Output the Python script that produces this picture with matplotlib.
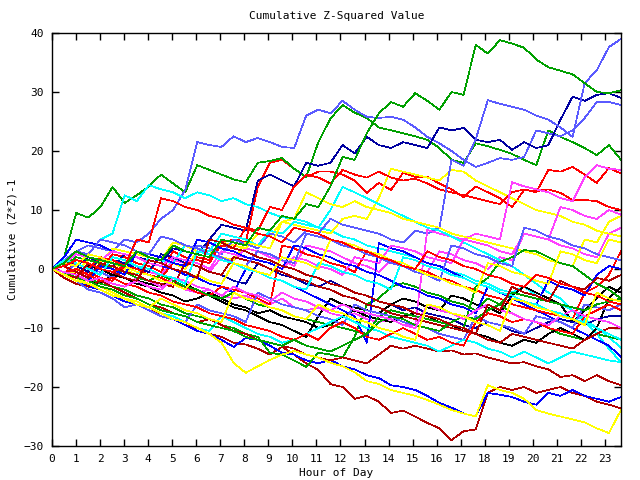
import numpy as np
import matplotlib
matplotlib.use("Agg")
import matplotlib.pyplot as plt

# half-hourly readings, 48 per walk, 0h .. 23.67h
hour_end = 23.67
n_pts = 48

green_b = [0, 1, 3, 2, 1.5, 1, 0.5, 3, 2, 1.5, 4, 3, 2.5, 2, 5, 4.5, 4, 7, 6.5, 9, 8.5, 11, 10.5, 14,
           19, 18.5, 23, 26.4, 28.3, 27.5, 29.8, 28.5, 27, 30, 29.5, 38, 36.5, 38.8, 38.2, 37.5, 35.5,
           34.2, 33.6, 33, 31.5, 30, 29.8, 30.3]
green_a = [0, 2, 9.5, 8.7, 10.5, 13.9, 11.2, 12.5, 14, 16, 14.5, 13, 17.6, 16.8, 16, 15.2, 14.7, 18,
           18.3, 18.8, 17, 15.6, 21.5, 25.5, 27.8, 26.5, 25.6, 24, 23.5, 23, 22.5, 21.9, 20.5, 18.5,
           18, 21.3, 20.8, 20.2, 19.5, 18.5, 17.6, 23.5, 22.4, 21.5, 20.5, 19.3, 21, 18.5]
mblue_1 = [0, 1.5, 3, 4, 3.5, 3, 5, 4.5, 6, 8.5, 10, 13.4, 21.5, 21, 20.7, 22.5, 21.5, 22.2, 21.5,
           20.7, 20.5, 26, 27, 26.4, 28.5, 27, 25.8, 25.6, 25.8, 25.3, 24, 22.4, 21.3, 20, 18.5, 17.3,
           18, 18.8, 18.5, 19, 23.5, 23, 22.5, 23.5, 25.6, 28.3, 28.3, 27.8]
mblue_2 = [0, -1, 1, 0, -0.5, -1.5, 1, 0.5, -0.5, 2.5, 2, 1, 4, 3.5, 2.5, 5, 4.3, 3.5, 6, 5.5, 4.5,
           6.5, 6, 8.5, 7.5, 7, 6.5, 6, 5, 4.5, 6.5, 6, 7, 18.5, 17.5, 22, 28.6, 28, 27.5, 27, 26,
           25.3, 24, 22.4, 31.5, 33.7, 37.6, 39]
navy_1 = [0, 1.5, 0.5, 2, 1, 0.5, 2.5, 2, 1.5, 1, 3.5, 3, 2.5, 5, 7.5, 7, 6.5, 15, 16, 15, 14, 18,
          17.5, 18, 21, 19.6, 22.4, 21, 20.5, 21.5, 21, 20.5, 24, 23.5, 23.9, 21.9, 21.5, 21.9, 20.2,
          21.5, 20.5, 21, 25.3, 29.2, 28.5, 29.5, 29.8, 29]
red_1 = [0, -1, 1.5, 1, 0, 2.5, 2, 1, 0.5, -0.5, 3, 2, 1.5, 1, 4.5, 5, 4.5, 13.9, 18, 18.5, 17,
         15.6, 16.5, 16.5, 16, 15, 12.9, 14.6, 13.4, 16.3, 15.6, 15.6, 14.5, 13.5, 12.2, 14, 13, 12,
         10.5, 13.4, 13.2, 13.5, 12.9, 11.7, 11.7, 11.5, 10.5, 10]
red_2 = [0, 0.5, -1, -0.5, -1.5, -2, 0.5, 0, -1, -1.5, 1, 0.5, 2, 1.5, 4, 3.5, 7, 6.5, 10.5, 10, 14,
         16, 15.5, 14.5, 16.8, 16, 15.5, 16.5, 15.5, 15, 15.3, 14.5, 13.5, 13, 12.5, 12, 11.5, 11,
         13, 13.5, 13, 16.8, 16.5, 17.3, 16, 14.6, 17.1, 16.2]
mag_1 = [0, -0.5, -1.5, -1, -2, -2.5, -3, -1.5, -2, -3, -2.5, -3.5, -4, -3.5, -4.5, -5, -4.5, -5.5,
         -6, -5, -6.5, -7, -6.5, -7.5, -8, -7.5, -8.5, -9, -8.5, -9.5, -9.5, 6.6, 6, 5.5, 5, 6, 5.5,
         5, 14.7, 14, 13.5, 13, 12, 11.5, 15.6, 17.6, 17, 16.8]
mag_2 = [0, 1, 2.5, 2, 1.5, 3, 2.5, 2, 1, 0.5, 2, 1.5, 1, 0, 3, 2.5, 2, 1.5, 1, 0, 2, 1.5, 0.5, 0,
         -1, 2, 1.5, 1, 4, 3.5, 3, 2, 1.5, 1, 5, 4.5, 4, 3, 2.5, 6, 5.5, 5, 10.5, 10, 9, 8.5, 10, 9.2]
yel_1 = [0, 1, 0.5, -0.5, 1.5, 1, 0, -1, 2, 1.5, 1, 0, 3, 2.5, 4.5, 4, 3.5, 6, 5.5, 8, 7.5, 7, 6.5,
         6, 8.5, 9, 8.5, 12, 17, 16.5, 16, 15.5, 15, 16.8, 16.5, 15, 14, 13, 12, 11, 10, 9.5, 9, 8,
         7.5, 6.5, 6, 5.5]
yel_2 = [0, -1, -0.5, 1.5, 1, 3.5, 3, 2.5, 2, 1.5, 4.5, 4, 3, 2.5, 2, 1.5, 4.5, 4, 3.5, 8, 8.5, 13,
         12, 11, 10.5, 11.5, 10.5, 10, 9.5, 8.5, 8, 7.5, 7, 6, 5.5, 5, 4.5, 4, 3.5, 3, 2.5, 1.5, 1,
         0.5, 5, 4.5, 8, 9]
cyan_1 = [0, 1, 3, 2.5, 5, 6, 12.5, 11.5, 14.2, 13.5, 13, 12, 13, 12.5, 11.5, 12, 11, 10.5, 9.5,
          8.8, 8.5, 8, 7, 6.5, 5.5, 5, 4, 3.5, 3, 2.5, 2, 1, 0.5, -0.5, -1, -2, -2.5, -3.5, -4, -3,
          -4.5, -5.5, -6, -7, -8.5, -10, -11.5, -13.4]
cyan_2 = [0, -1, -2, -1.5, 1, 0.5, -0.5, -1, 2, 1.5, 1, 4, 3.5, 3, 6, 5.5, 5, 4, 6.5, 6, 8, 7.5, 7,
          10, 13.9, 13, 12, 11, 10, 9, 8, 7, 6.5, 5.5, 4.5, 3.5, 2.5, 1.5, 0.5, -1, -2.5, -4, -5, -7,
          -9, -11, -13.5, -15.8]
black_1 = [0, -0.5, -1, -2, -2.5, -1, -1.5, -2, -2.5, -3, -1.5, -2.5, -3.6, -4.5, -5.5, -6.5, -7,
           -8, -9, -9.5, -10.5, -11.5, -8, -5, -6, -6.5, -7, -7.5, -6, -5, -5.5, -6.5, -7, -4.5, -5,
           -6, -6.5, -7.5, -4.5, -3, -4, -5, -6, -9, -7, -5, -3, -4]
dred_1 = [0, -1, -2, -2.8, -3.5, -4.5, -5.5, -6, -7, -7.5, -8.5, -9.5, -10, -11, -11.5, -12.5,
          -12.8, -13.5, -14.5, -13.2, -14.5, -16, -17.1, -19.5, -20, -22, -21.5, -22.5, -24.4, -24,
          -25, -26.1, -27, -29, -27.5, -27.2, -21, -20, -20.5, -20, -21, -20.5, -20, -21, -21.5,
          -22.5, -23, -23.6]
dred_2 = [0, -1.5, -2.5, -3, -2, -3, -4, -5, -6, -6.5, -7.5, -8, -9, -8.5, -9.5, -10.5, -11, -12,
          -12.5, -13, -13.5, -14.5, -15, -15.5, -15, -15.5, -16, -14.5, -13, -13.5, -13, -13.5, -14,
          -13.8, -14.5, -14.3, -15, -15.5, -16, -15.8, -16.5, -17, -18.3, -18, -19, -18, -19, -19.7]
blue_1 = [0, -1, -2, -3, -3.5, -4.5, -5.5, -6, -7, -8, -8.5, -9.5, -10.5, -11, -12, -13.2, -11.7,
          -12, -13, -14.2, -14.5, -15.5, -16, -15.4, -16.5, -17, -18, -18.5, -19.7, -20, -20.5,
          -21.5, -22.7, -23.5, -24.5, -25, -21, -21.3, -21.7, -22.5, -23, -21, -21.5, -20.5, -21.5,
          -22, -22.5, -21.7]
yel_3 = [0, -1, -1.5, -2.5, -3, -4, -5, -5.5, -6.5, -7.5, -8.5, -9, -10, -11, -12.5, -15.9, -17.6,
         -16.5, -15.4, -14.5, -13.9, -14.5, -15, -15.9, -16.5, -17.5, -19, -19.5, -20.5, -21, -21.5,
         -22.2, -23, -23.9, -24.5, -25, -19.7, -20.5, -21, -22, -23.9, -24.5, -25, -25.5, -26, -27,
         -27.8, -23.9]
green_c = [0, -1, -0.5, -1.5, -2.5, -3, -3.5, -4.5, -5, -6, -6.5, -7.5, -8, -8.5, -9.5, -10, -11,
           -11.5, -14.2, -14.5, -15.5, -16.6, -14.2, -14.5, -15, -11.5, -6, -5, -3, -2.4, -3, -4,
           -4.5, -5.5, -6, -7, -5, -6, -7.5, -8.5, -9, -10, -11, -11.5, -12, -11, -11.5, -12]
green_d = [0, 0.5, 2, 1.5, 1, 0, -0.5, -1.5, -2, -1, -2, -3, -3.5, -4.5, -5, -4, -5, -6, -6.5, -7,
           -8, -8.5, -9, -9.5, -10, -10.5, -11, -8, -7, -7.5, -8, -8.5, -9, -9.5, -10, -3, -1.5, 1.2,
           2, 3.2, 3, 2, 1, 0.5, -1, -2.5, -3.5, -5]
blue_2 = [0, 2, 5, 4.5, 4, 3, 2.5, 2, 1, 0.5, 0, -1, -1.5, -2.5, -3, -4, 0, -0.5, -1.5, -2, -3, -4,
          -5, -6, -7, -8, -12.5, 4.4, 3.5, 3, 2, 1, 0.5, -0.5, -1.5, -2.5, -3, -4, -5, -6, -7, -8,
          -9, -10, -11, -12, -13, -14.9]
blue_3 = [0, -1, -1.5, -2, 0.5, 0, -1, 3, 2.5, 2, 1, 0.5, 5, 4.5, 3.5, 3, 2, 1.5, 1, 0, 4, 3.5, 2.5,
          2, 1, 0.5, -0.5, -1, -2, -3, -3.5, -4.5, -5, -6, -6.5, -7.5, -3, -4, -4.5, -5.5, -6, -2,
          -3, -3.5, -4.5, -1, 0.5, 0]
navy_2 = [0, 1, 0.5, -0.5, 2, 1.5, 1, 0, -0.5, 2.5, 2, 1, 0.5, -0.5, -1, -2, -2.5, 1, 0, -1, -1.5,
          -2.5, -3, -2, -3, -4, -4.5, -5.5, -6, -7, -6.5, -7.5, -8, -8.5, -9.5, -10, -9, -9.5, -10.5,
          -11, -10, -9, -8.5, -9, -9.5, -8.5, -8, -8]
mblue_3 = [0, -1, -2, -3.5, -4, -5, -6.5, -6, -7, -8, -8.5, -9, -6, -7, -7.5, -8, -9, -4, -5, -6,
           -6.5, -7, -8, -8.5, -9.5, -6, -7, -7.5, -8, -9, -9.5, -10, -11, -11.5, -12, -8, -9, -9.5,
           -10, -11, -8, -8.5, -9, -10, -6, -6.5, -7, -6]
red_3 = [0, 1.5, 1, 0, 2, 1.5, 0.5, 0, -1, -1.5, -2.5, -3, -4, -4.5, -3, -3.5, -4, -5, -6, 4, 3.5,
         2.5, 2, 1, 0.5, -0.5, 3, 2.5, 1.5, 1, 0, -0.5, -1.5, -2, -3, -3.5, -4.5, -5, -6, -6.5, -7,
         -7.5, -8, -8.5, -4, -3, -1, 3]
red_4 = [0, -0.5, 0, -1, -2, -1.5, -2.5, -3, -4, -4.5, -5.5, -6, -6.5, -7.5, -8, -8.5, -9.5, -10,
         -10.5, -11.5, -12, -11, -12, -10, -9, -10, -11.5, -12, -11, -10, -11, -12, -11.5, -12.5,
         -13, -9, -7.5, -8, -9, -8.5, -9, -10, -10.5, -11, -8, -7, -6, -7]
dred_3 = [0, 0.5, -0.5, -1.5, 1, 0.5, -0.5, -1, -2, -2.5, -3, 1, 0.5, -0.5, -1, 2, 1.5, 1, 0, -0.5,
          -1.5, -2, -3, -3.5, -4.5, -5, -6, -6.5, -7.5, -8, -8.5, -9, -9.5, -10, -10.5, -11, -12,
          -12.5, -11, -11.5, -12, -12.5, -13, -13.5, -12, -11, -10, -10]
mag_3 = [0, -1, -2, -1.5, -2.5, -1, 1, 0.5, -0.5, -1, 1.5, 1, 0.5, -0.5, 2, 1.5, 3.5, 3, 2, 1.5,
         0.5, 4, 3.5, 3, 2, 1, 0.5, -0.5, 1.5, 1, 0, -0.5, 3, 2.5, 1.5, 1, 0, 2, 1.5, 6, 5.5, 5, 4,
         3.5, 2.5, 2, 6, 7]
cyan_3 = [0, -0.5, -1.5, -2.5, -3, -4, -5, -5.5, -6.5, -7.5, -8, -9, -10, -10.5, -8, -9, -10, -11,
          -11.5, -12.5, -12, -11, -10, -9, -8, -9, -10, -10.5, -11.5, -12, -12.5, -13, -14, -13, -12,
          -12.5, -13.5, -14, -15, -14, -15, -16, -15, -14, -14.5, -15, -15.5, -15.8]
yel_4 = [0, 1, 0.5, 2.5, 2, 1, 0.5, -0.5, -1, -2, -2.5, -3.5, -1, -2, -2.5, 1, 0.5, -0.5, -1, 2,
         1.5, 1, 0, 5, 4.5, 4, 3, 2.5, 1.5, 1, 0, -1, -1.5, -2.5, -3, -4, 1, 0.5, -0.5, -1, -2,
         -2.5, 3, 2.5, 1.5, 1, 5, 4.5]
green_e = [0, -0.5, -1.5, -2, -3, -3.5, -4.5, -5, -6, -7, -7.5, -8, -9, -9.5, -10, -10.5, -11.5,
           -12, -12.5, -13, -12, -13, -13.5, -14, -13, -12, -11, -9, -8, -8.5, -9.5, -10, -10.5, -9,
           -8, -8.5, -7, -6, -4, -4.5, -5, -5.5, -6, -6.5, -7, -6, -5.5, -5]
black_2 = [0, -0.5, -1.5, 0.5, 0, -1, -1.5, -2.5, -3, -4, -4.5, -5.5, -5, -4, -5, -6, -6.5, -7.5,
           -7, -8, -8.5, -9, -10, -9.5, -8, -7, -8, -8.5, -9, -8, -7.5, -8, -9, -9.5, -10.5, -11,
           -11.5, -12.5, -13, -12, -12.5, -11, -10, -11, -12, -10, -5, -3]
mblue_4 = [0, 1.5, 3, 2.5, 5, 4.5, 4, 3, 2.5, 5.5, 5, 4, 3.5, 2.5, 2, 1, 0.5, 3, 2.5, 1.5, 1, 6,
           5.5, 5, 4, 3.5, 2.5, 2, 1, 0.5, -0.5, -1, -2, 4, 3.5, 2.5, 2, 1, 0.5, 7, 6.5, 5.5, 5, 4,
           3.5, 2.5, 2, 1.5]
red_5 = [0, 0.5, 1.5, 1, 0, -0.5, 0.5, 5, 4.5, 12, 11.5, 10.5, 10, 9, 8.5, 7.5, 7, 6, 5.5, 4.5, 7,
         6.5, 6, 5, 4.5, 3.5, 3, 2, 1.5, 0.5, 0, 3, 2, 1.5, 0.5, 0, -1, -1.5, -2.5, -3, -1, -1.5,
         -2.5, -3, -4, -4.5, -5.5, -6]
cyan_5 = [0, 1.5, 1, 0, -1, 2, 1.5, 0.5, 0, -1, -1.5, -2.5, 3, 2.5, 1.5, 1, 0, -0.5, -1.5, -2, -3,
          -3.5, 1, 0.5, -0.5, -1, -2, -2.5, -3.5, 2, 1.5, 0.5, 0, -1, -1.5, -2.5, -3, -4, -4.5,
          -5.5, -6, -7, -7.5, -8.5, -9, -10, -11, -12]
dred_4 = [0, -1, -1.5, 1, 0, -0.5, -1.5, -2, 1.5, 1, 0, -0.5, -1.5, 5, 4.5, 3.5, 3, 2, 1.5, 0.5, 0,
          -1, -1.5, -2.5, -3, -4, -4.5, -5.5, -6, -6.5, -7.5, -8, -8.5, -9.5, -10, -11, -6, -7, -3,
          -4, -4.5, -5.5, -2, -3, -3.5, -1.5, -2, -1]
mag_5 = [0, -0.5, -1, -2, -1.5, -2.5, -3, -2, -3, -3.5, -1.5, -2, -3, -3.5, -4.5, -3, -4, -4.5,
         -5.5, -4, -5, -5.5, -6.5, -7, -6, -7, -7.5, -8, -8.5, -9.5, -10, -6, -7, -7.5, -8.5, -7,
         -6, -7, -7.5, -8.5, -9, -9.5, -8, -7, -8, -8.5, -9, -10]
yel_5 = [0, -1, -2, -2.5, -3.5, -4.5, -5, -6, -6.5, -5, -6, -7, -7.5, -8.5, -9, -4, -5, -5.5, -6.5,
         -7, -8, -8.5, -6, -7, -7.5, -8.5, -9, -10, -10.5, -11.5, -12, -6, -6.5, -7.5, -8, -9, -9.5,
         -10.5, -5, -5.5, -6.5, -7, -8, -8.5, -9.5, -4, -5, -5.5]

series = [
    (red_1, "#ff0000"), (green_a, "#00a000"), (mblue_1, "#5a5aff"), (mag_3, "#ff40ff"),
    (cyan_1, "#00ffff"), (yel_1, "#ffff00"), (black_1, "#000000"), (dred_1, "#b00000"),
    (blue_1, "#0000ff"), (navy_1, "#0000a0"), (red_2, "#ff0000"), (green_c, "#00a000"),
    (mblue_2, "#5a5aff"), (mag_1, "#ff40ff"), (cyan_2, "#00ffff"), (yel_2, "#ffff00"),
    (black_2, "#000000"), (dred_2, "#b00000"), (blue_2, "#0000ff"), (navy_2, "#0000a0"),
    (red_3, "#ff0000"), (green_d, "#00a000"), (mblue_3, "#5a5aff"), (mag_2, "#ff40ff"),
    (cyan_3, "#00ffff"), (yel_3, "#ffff00"), (dred_3, "#b00000"), (blue_3, "#0000ff"),
    (red_4, "#ff0000"), (green_e, "#00a000"), (mblue_4, "#5a5aff"), (mag_5, "#ff40ff"),
    (cyan_5, "#00ffff"), (yel_4, "#ffff00"), (dred_4, "#b00000"), (red_5, "#ff0000"),
    (yel_5, "#ffff00"), (green_b, "#00a000"),
]

hours = np.linspace(0, hour_end, n_pts)
x_ticks = list(range(0, 24))
y_ticks = list(range(-30, 41, 10))

font = "DejaVu Sans Mono"
fig = plt.figure(figsize=(6.4, 4.8), dpi=100)
ax = fig.add_axes([52 / 640, 34 / 480, 569 / 640, 413 / 480])

for vals, col in series:
    ax.plot(hours, vals, color=col, lw=0.5, antialiased=False)

ax.set_xlim(0, hour_end)
ax.set_ylim(-30, 40)
ax.set_xticks(x_ticks)
ax.set_yticks(y_ticks)
ax.tick_params(direction="in", length=5, width=1, top=True, right=True, labelsize=8, pad=6)
for lab in ax.get_xticklabels() + ax.get_yticklabels():
    lab.set_family(font)
for sp in ax.spines.values():
    sp.set_linewidth(1)

ax.set_title("Cumulative Z-Squared Value", fontsize=8, family=font, pad=10)
ax.set_xlabel("Hour of Day", fontsize=8, family=font, labelpad=3)
ax.set_ylabel("Cumulative (Z*Z)-1", fontsize=8, family=font, labelpad=4)

fig.savefig("out.png", dpi=100)
